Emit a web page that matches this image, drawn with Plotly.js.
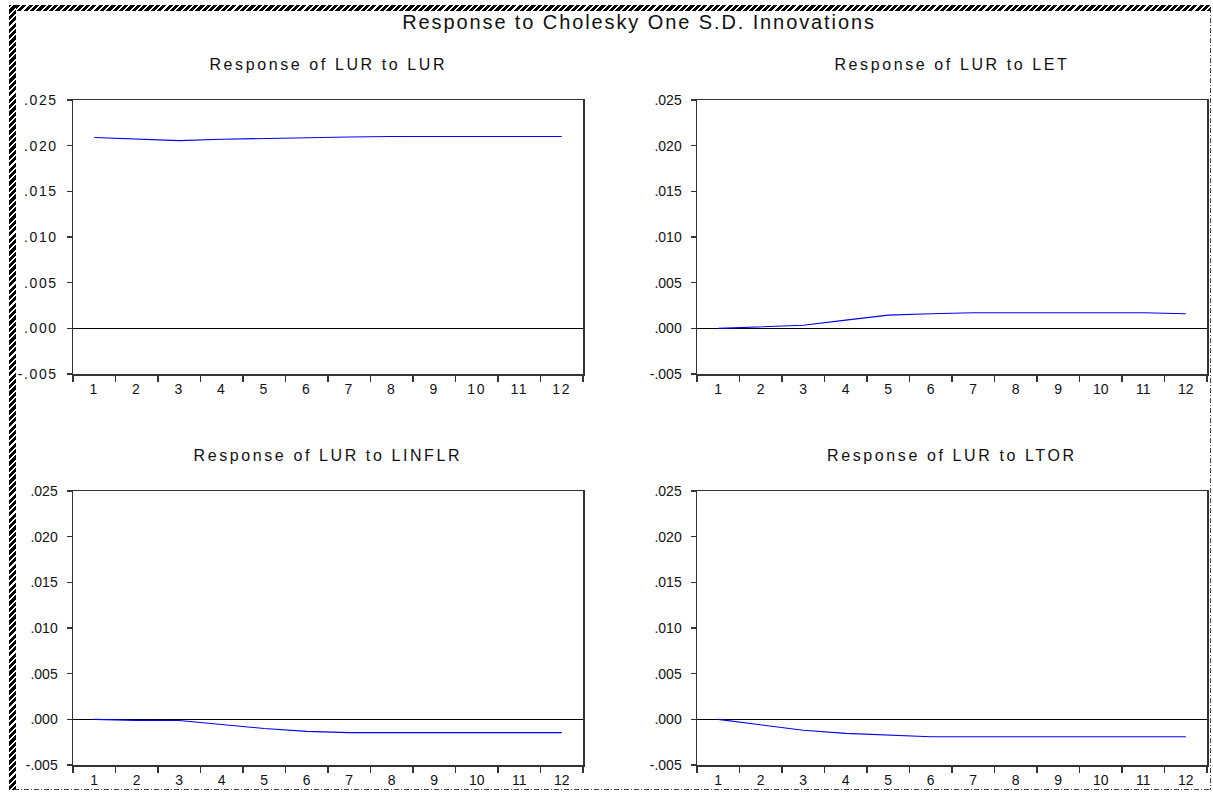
<!DOCTYPE html>
<html>
<head>
<meta charset="utf-8">
<script src="https://cdn.plot.ly/plotly-3.0.1.min.js"></script>
<style>
  html, body { margin: 0; padding: 0; background: #fff; }
  #wrap { position: relative; width: 1213px; height: 793px; overflow: hidden; }
  #chart { position: absolute; left: 0; top: 0; width: 1213px; height: 793px; }
  .deco { position: absolute; pointer-events: none; z-index: 10; }
  #bTop { left: 9px; top: 5px; width: 1202px; height: 6px;
    background: repeating-linear-gradient(-45deg, #000 0 3px, #fff 3px 4.5px); }
  #bLeft { left: 9px; top: 5px; width: 7px; height: 785px;
    background: repeating-linear-gradient(-45deg, #000 0 3px, #fff 3px 4.5px); }
  #bRight { left: 1210px; top: 8px; width: 1px; height: 782px;
    background: repeating-linear-gradient(to bottom, #444 0 5px, transparent 5px 7px, #444 7px 8px, transparent 8px 10px); }
  #bBottom { left: 14px; top: 789px; width: 1197px; height: 1px;
    background: repeating-linear-gradient(to right, #444 0 5px, transparent 5px 7px, #444 7px 8px, transparent 8px 10px); }
  #chart .gtitle { letter-spacing: 1.9px; }
  #chart .annotation-text { letter-spacing: 2.6px; }
  #chart .xtick text, #chart .ytick text { letter-spacing: 1.6px; }
</style>
</head>
<body>
<div id="wrap">
  <div id="chart"></div>
  <div class="deco" id="bTop"></div>
  <div class="deco" id="bLeft"></div>
  <div class="deco" id="bRight"></div>
  <div class="deco" id="bBottom"></div>
</div>
<script>
// ---- data ----
const periods = ['1','2','3','4','5','6','7','8','9','10','11','12'];
const lurToLur    = [0.0209, 0.0207, 0.02055, 0.0207, 0.0208, 0.0209, 0.02095, 0.0210, 0.0210, 0.0210, 0.0210, 0.0210];
const lurToLet    = [0.0000, 0.00015, 0.00033, 0.0009, 0.00145, 0.0016, 0.0017, 0.0017, 0.0017, 0.0017, 0.0017, 0.0016];
const lurToLinflr = [0.0000, -0.00011, -0.00012, -0.00054, -0.0010, -0.00132, -0.00146, -0.00146, -0.00146, -0.00146, -0.00146, -0.00146];
const lurToLtor   = [0.0000, -0.0006, -0.0012, -0.00154, -0.00175, -0.0019, -0.0019, -0.0019, -0.0019, -0.0019, -0.0019, -0.0019];
const yTickVals = [-0.005, 0.000, 0.005, 0.010, 0.015, 0.020, 0.025];
const yTickText = ['-.005', '.000', '.005', '.010', '.015', '.020', '.025'];
const panelTitles = ['Response of LUR to LUR', 'Response of LUR to LET', 'Response of LUR to LINFLR', 'Response of LUR to LTOR'];
const mainTitle = 'Response to Cholesky One S.D. Innovations';

const W = 1213, H = 793;
const FONT = 'Liberation Sans, Arial, sans-serif';
const series = [lurToLur, lurToLet, lurToLinflr, lurToLtor];

// panel geometry in pixels
const xDom = [[73, 583], [697, 1207]];
const yDom = [[100, 374], [491, 765]];

const traces = series.map((s, i) => ({
  x: periods, y: s, type: 'scatter', mode: 'lines',
  line: { color: '#0000ff', width: 1.1 },
  xaxis: 'x' + (i === 0 ? '' : (i + 1)),
  yaxis: 'y' + (i === 0 ? '' : (i + 1)),
  hoverinfo: 'skip', showlegend: false
}));

const layout = {
  width: W, height: H,
  margin: { l: 0, r: 0, t: 0, b: 0 },
  paper_bgcolor: '#fff', plot_bgcolor: '#fff',
  font: { family: FONT, color: '#111', size: 14 },
  showlegend: false,
  title: { text: mainTitle, x: 639 / W, xanchor: 'center', y: 1 - 22 / H, yanchor: 'middle',
           font: { family: FONT, size: 20, color: '#111' } },
  annotations: []
};

for (let i = 0; i < 4; i++) {
  const col = i % 2, row = Math.floor(i / 2);
  const xk = 'xaxis' + (i === 0 ? '' : (i + 1));
  const yk = 'yaxis' + (i === 0 ? '' : (i + 1));
  const xd = xDom[col], yd = yDom[row];
  layout[xk] = {
    type: 'category',
    domain: [xd[0] / W, xd[1] / W],
    anchor: 'y' + (i === 0 ? '' : (i + 1)),
    range: [-0.5, 11.5],
    tickson: 'boundaries',
    ticks: 'outside', ticklen: 6, tickwidth: 1.5, tickcolor: '#333',
    ticklabelstandoff: 2,
    showline: true, mirror: true, linecolor: '#333', linewidth: 1.5,
    showgrid: false, zeroline: false,
    tickfont: { family: FONT, size: 14, color: '#111' },
    fixedrange: true
  };
  layout[yk] = {
    domain: [1 - yd[1] / H, 1 - yd[0] / H],
    anchor: 'x' + (i === 0 ? '' : (i + 1)),
    range: [-0.005, 0.025],
    tickmode: 'array', tickvals: yTickVals, ticktext: yTickText,
    ticks: 'outside', ticklen: 5, tickwidth: 1.5, tickcolor: '#333',
    ticklabelstandoff: 6,
    showline: true, mirror: true, linecolor: '#333', linewidth: 1.5,
    showgrid: false,
    zeroline: true, zerolinecolor: '#000', zerolinewidth: 1,
    tickfont: { family: FONT, size: 14, color: '#111' },
    fixedrange: true
  };
  layout.annotations.push({
    text: panelTitles[i], showarrow: false,
    xref: 'paper', yref: 'paper',
    x: (xd[0] + xd[1]) / 2 / W, xanchor: 'center',
    y: 1 - (row === 0 ? 64 : 455) / H, yanchor: 'middle',
    font: { family: FONT, size: 16, color: '#111' }
  });
}

Plotly.newPlot('chart', traces, layout, { displayModeBar: false, staticPlot: true });
</script>
</body>
</html>
